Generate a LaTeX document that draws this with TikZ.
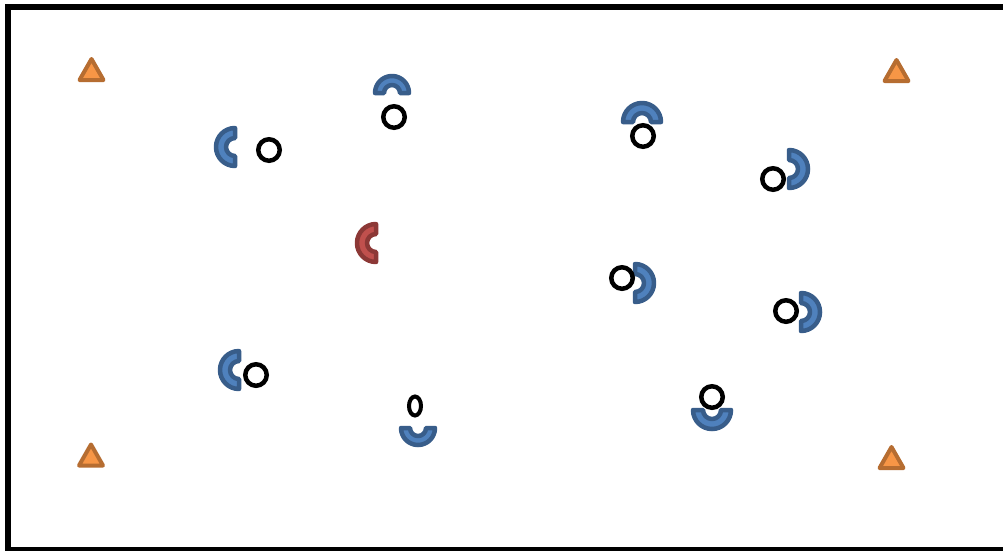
\documentclass[tikz,border=0pt]{standalone}
\usetikzlibrary{shapes.geometric}
\definecolor{blueL}{HTML}{4F81BD}
\definecolor{blueD}{HTML}{385D8A}
\definecolor{redL}{HTML}{C0504D}
\definecolor{redD}{HTML}{8C3836}
\definecolor{orgL}{HTML}{F79646}
\definecolor{orgD}{HTML}{B66D31}
\tikzset{
  halfring/.pic={\path[pic actions] (90:19) arc[start angle=90,end angle=270,radius=19] -- (270:9) arc[start angle=270,end angle=90,radius=9] -- cycle;},
  smallring/.pic={\path[pic actions] (90:17) arc[start angle=90,end angle=270,radius=17] -- (270:8) arc[start angle=270,end angle=90,radius=8] -- cycle;},
  tri/.pic={\path[pic actions] (0,11) -- (-12,-10) -- (12,-10) -- cycle;},
  bluearc/.style={fill=blueL, draw=blueD, line width=4.5, line join=round},
  redarc/.style={fill=redL, draw=redD, line width=4.5, line join=round},
  cone/.style={fill=orgL, draw=orgD, line width=4, line join=round},
  ball/.style={circle, draw=black, line width=4.5, minimum size=21.5, inner sep=0pt},
  oval/.style={ellipse, draw=black, line width=4, minimum width=12, minimum height=19, inner sep=0pt},
  frame/.style={draw=black, line width=5.5}
}
\begin{document}
\begin{tikzpicture}[x=1pt,y=1pt]
\useasboundingbox (0,0) rectangle (1003,-550);
\clip (0,0) rectangle (1003,-550);
\fill[white] (0,0) rectangle (1003,-550);
\draw[frame] (8,-7) rectangle (1008,-550);
% cones
\pic[cone] at (91.5,-70) {tri};
\pic[cone] at (896.5,-71) {tri};
\pic[cone] at (91,-455.5) {tri};
\pic[cone] at (891.5,-458) {tri};
% half rings
\pic[bluearc] at (235,-147) {halfring};
\pic[bluearc,rotate=-90] at (392,-93) {smallring};
\pic[redarc] at (376,-243) {halfring};
\pic[bluearc] at (239,-370) {halfring};
\pic[bluearc,rotate=90] at (418,-428) {smallring};
\pic[bluearc,rotate=90] at (712,-410) {halfring};
\pic[bluearc,rotate=-90] at (642,-122) {halfring};
\pic[bluearc,rotate=180] at (789,-169) {halfring};
\pic[bluearc,rotate=180] at (635,-283) {halfring};
\pic[bluearc,rotate=180] at (801,-312) {halfring};
% balls
\node[ball] (b1) at (269,-150) {};
\node[ball] (b2) at (394,-117) {};
\node[ball] (b3) at (643,-136) {};
\node[ball] (b4) at (773,-179) {};
\node[ball] (b5) at (622,-278) {};
\node[ball] (b6) at (786,-311) {};
\node[ball] (b7) at (256,-375) {};
\node[oval] (b8) at (415,-406) {};
\node[ball] (b9) at (712,-397) {};
\end{tikzpicture}
\end{document}
